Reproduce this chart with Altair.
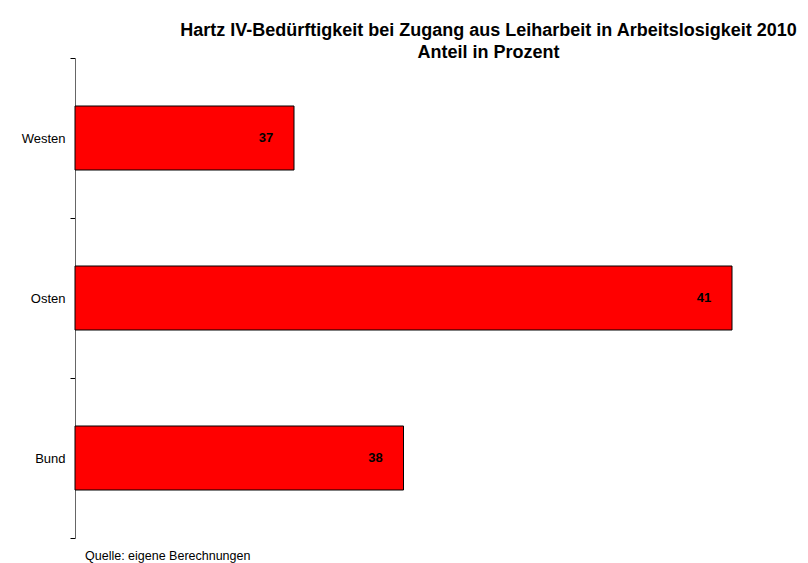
import altair as alt
import pandas as pd

categories = ["Westen", "Osten", "Bund"]
values = [37, 41, 38]
title_lines = ["Hartz IV-Bedürftigkeit bei Zugang aus Leiharbeit in Arbeitslosigkeit 2010", "Anteil in Prozent"]
source_note = "Quelle: eigene Berechnungen"

df = pd.DataFrame({"region": categories, "wert": values})

W, H = 725, 480
FONT = "Liberation Sans"
X_MIN = 35

y_enc = alt.Y(
    "region:N",
    sort=categories,
    title=None,
    scale=alt.Scale(paddingInner=0, paddingOuter=0),
    axis=alt.Axis(
        tickBand="extent",
        tickSize=5,
        tickColor="#000000",
        domainColor="#666666",
        labelFont=FONT,
        labelFontSize=13,
        labelColor="#000000",
        labelPadding=5,
        grid=False,
    ),
)
x_enc = alt.X(
    "wert:Q",
    scale=alt.Scale(domain=[X_MIN, X_MIN + W / 109.5], zero=False, nice=False),
    axis=None,
)

bars = alt.Chart(df).mark_bar(color="#FF0000", stroke="#000000", strokeWidth=1, size=64).encode(
    x=x_enc, x2=alt.X2(datum=X_MIN), y=y_enc
)
labels = alt.Chart(df).mark_text(
    font=FONT, fontSize=13, fontWeight="bold", color="#000000", dx=-28, align="center", baseline="middle"
).encode(x=x_enc, y=alt.Y("region:N", sort=categories), text="wert:Q")

note = alt.Chart(pd.DataFrame({"t": [source_note]})).mark_text(
    font=FONT, fontSize=12.5, color="#000000", align="left", baseline="alphabetic"
).encode(x=alt.value(10), y=alt.value(H + 22), text="t:N")

chart = (
    alt.layer(bars, labels, note)
    .properties(
        width=W,
        height=H,
        autosize=alt.AutoSizeParams(type="none"),
        padding={"left": 67, "top": 50, "right": 0, "bottom": 25},
        title=alt.TitleParams(
            text=title_lines,
            font=FONT,
            fontSize=18,
            fontWeight="bold",
            color="#000000",
            anchor="middle",
            dx=51,
            dy=10,
            offset=0,
            lineHeight=22,
        ),
    )
    .configure_view(stroke=None)
)

chart.save("out.html", embed_options={"renderer": "svg", "actions": False})
